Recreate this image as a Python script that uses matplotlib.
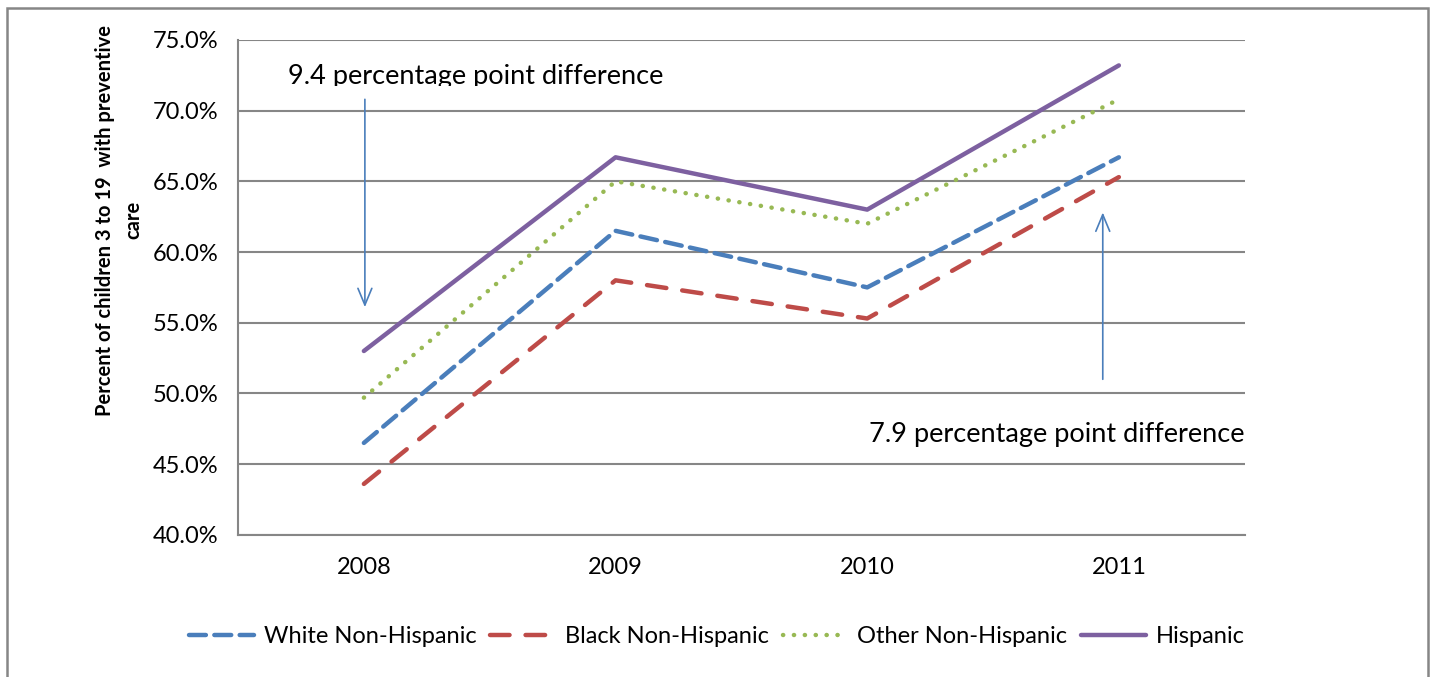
import matplotlib.pyplot as plt
from matplotlib.patches import Rectangle

# datos
years = ['2008', '2009', '2010', '2011']
white = [46.5, 61.5, 57.5, 66.7]
black = [43.6, 58.0, 55.3, 65.3]
other = [49.7, 65.0, 62.0, 70.8]
hispanic = [53.0, 66.7, 63.0, 73.2]
yticks = [40, 45, 50, 55, 60, 65, 70, 75]

plt.rcParams['font.family'] = ['Lato', 'DejaVu Sans']

fig = plt.figure(figsize=(14.34, 6.77), dpi=100)
ax = fig.add_axes([0.166, 0.21, 0.702, 0.731])

xs = [i + 0.5 for i in range(len(years))]
lw = 3.2
ax.plot(xs, white, color='#4A7EBB', lw=lw, dashes=(3.8, 1.9), dash_capstyle='round',
        label='White Non-Hispanic')
ax.plot(xs, black, color='#BE4B48', lw=lw, dashes=(4.4, 3.6), dash_capstyle='round',
        label='Black Non-Hispanic')
ax.plot(xs, other, color='#98B954', lw=lw, dashes=(0.05, 2.4), dash_capstyle='round',
        label='Other Non-Hispanic')
ax.plot(xs, hispanic, color='#7D60A0', lw=lw, solid_capstyle='round', label='Hispanic')

ax.set_xlim(0, 4)
ax.set_ylim(40, 75)
ax.set_xticks(xs)
ax.set_xticklabels(years)
ax.set_yticks(yticks)
ax.set_yticklabels(['%.1f%%' % v for v in yticks])
ax.yaxis.grid(True, color='#868686', lw=1.5)
ax.set_axisbelow(True)
ax.tick_params(length=0, labelsize=17, pad=14)
ax.tick_params(axis='x', pad=16)
for s in ['top', 'right']:
    ax.spines[s].set_visible(False)
for s in ['left', 'bottom']:
    ax.spines[s].set_color('#868686')
    ax.spines[s].set_linewidth(1.5)

ax.set_ylabel('Percent of children 3 to 19  with preventive\ncare', fontsize=14.5,
              fontweight='bold', linespacing=1.5)
ax.yaxis.set_label_coords(-0.094, 0.636)

# flechas de diferencia
arr = dict(arrowstyle='->,head_length=1.2,head_width=0.5', color='#4A7EBB', lw=1.2,
           shrinkA=0, shrinkB=0)
ax.annotate('', xy=(0.504, 56.1), xytext=(0.504, 70.8), arrowprops=arr)
ax.annotate('', xy=(3.436, 62.8), xytext=(3.436, 51.0), arrowprops=arr)

# el cuadro de texto corta la parte de abajo del rotulo
ax.text(0.2, 71.85, '9.4 percentage point difference', fontsize=19.5, va='baseline',
        zorder=4)
ax.add_patch(Rectangle((0.15, 71.1), 1.8, 0.64, facecolor='white', edgecolor='none',
                       zorder=5))

ax.text(4.0, 47.1, '7.9 percentage point difference', fontsize=19.5, ha='right', va='center')

fig.legend(loc='center', bbox_to_anchor=(0.5, 0.06), ncol=4, frameon=False,
           fontsize=17, handlelength=2.75, handletextpad=0.4, columnspacing=0.6)

# marco exterior
fig.patches.append(Rectangle((0.005, -0.05), 0.991, 1.038, transform=fig.transFigure,
                             fill=False, edgecolor='#868686', lw=1.8))

fig.savefig('out.png', dpi=100)
